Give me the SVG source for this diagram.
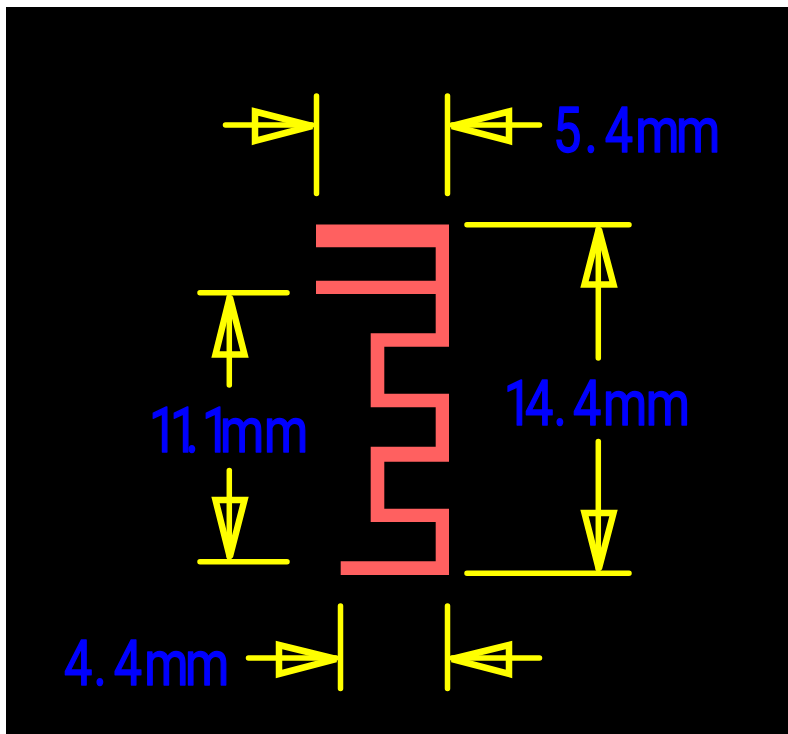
<svg xmlns="http://www.w3.org/2000/svg" width="788" height="734" viewBox="0 0 788 734">
<style>
.dim{fill:none;stroke:#ffff00;stroke-width:5.5;stroke-linecap:round;stroke-linejoin:round}
.head{stroke-width:6.5;stroke-linejoin:miter;stroke-miterlimit:3}
.lbl{font-family:Roboto,"Liberation Sans",Arial,sans-serif;font-size:63px;fill:#0000ff;stroke:#0000ff;stroke-width:1.5;stroke-linejoin:round}
</style>
<rect x="0" y="0" width="788" height="734" fill="#ffffff"/>
<rect x="6" y="7" width="782" height="727" fill="#000000"/>
<g id="antenna">
<path fill="#ff6060" d="M316,224.5H449V346.7H384.3V393.7H449V461.7H384.3V508.7H449V575H340.7V561.3H435.7V522H370.7V446.7H435.7V407.3H370.7V333.3H435.7V294H316V280.7H435.7V247.3H316Z"/>
</g>
<g id="connectors" class="dim">
<g id="dim-top">
<path d="M316.5,96V193.5M447.5,96V193.5"/>
<path d="M225.5,125H312"/><path class="head" d="M255,111.5L312,126L255,141Z"/>
<path d="M539.5,125H452"/><path class="head" d="M509,111.5L452,126L509,141Z"/>
</g>
<g id="dim-bottom">
<path d="M340.5,606V688.5M447.5,606V688.5"/>
<path d="M248.5,658H336"/><path class="head" d="M279,645L336,659L279,674Z"/>
<path d="M539.5,658H452"/><path class="head" d="M509,645L452,659L509,674Z"/>
</g>
<g id="dim-left">
<path d="M200,292.7H287M200,561.7H287"/>
<path d="M229.3,385V297"/><path class="head" d="M215.5,354.5L229.8,297L244.5,354.5Z"/>
<path d="M229.3,470.5V557"/><path class="head" d="M215.5,500L229.8,557L244.5,500Z"/>
</g>
<g id="dim-right">
<path d="M467,224.7H629M467,573.3H629"/>
<path d="M598.3,358V229"/><path class="head" d="M584.5,284.5L598.8,229L613.5,284.5Z"/>
<path d="M598.3,441.5V569"/><path class="head" d="M584.5,513L598.8,569L613.5,513Z"/>
</g>
</g>
<g id="labels">
<text class="lbl" transform="translate(556,152) scale(.8,1)" x="-3.75 35.6 61 99 150">5.4mm</text>
<text class="lbl" transform="translate(505,425) scale(.8,1)" x="-1.6 25 60.6 85 122.5 176">14.4mm</text>
<text class="lbl" transform="translate(150,452) scale(.8,1)" x="-1.4 24.9 44.4 65 87.5 142.5">11.1mm</text>
<text class="lbl" transform="translate(65,685) scale(.8,1)" x="-1.2 35.6 61 99 150">4.4mm</text>
</g>
</svg>
